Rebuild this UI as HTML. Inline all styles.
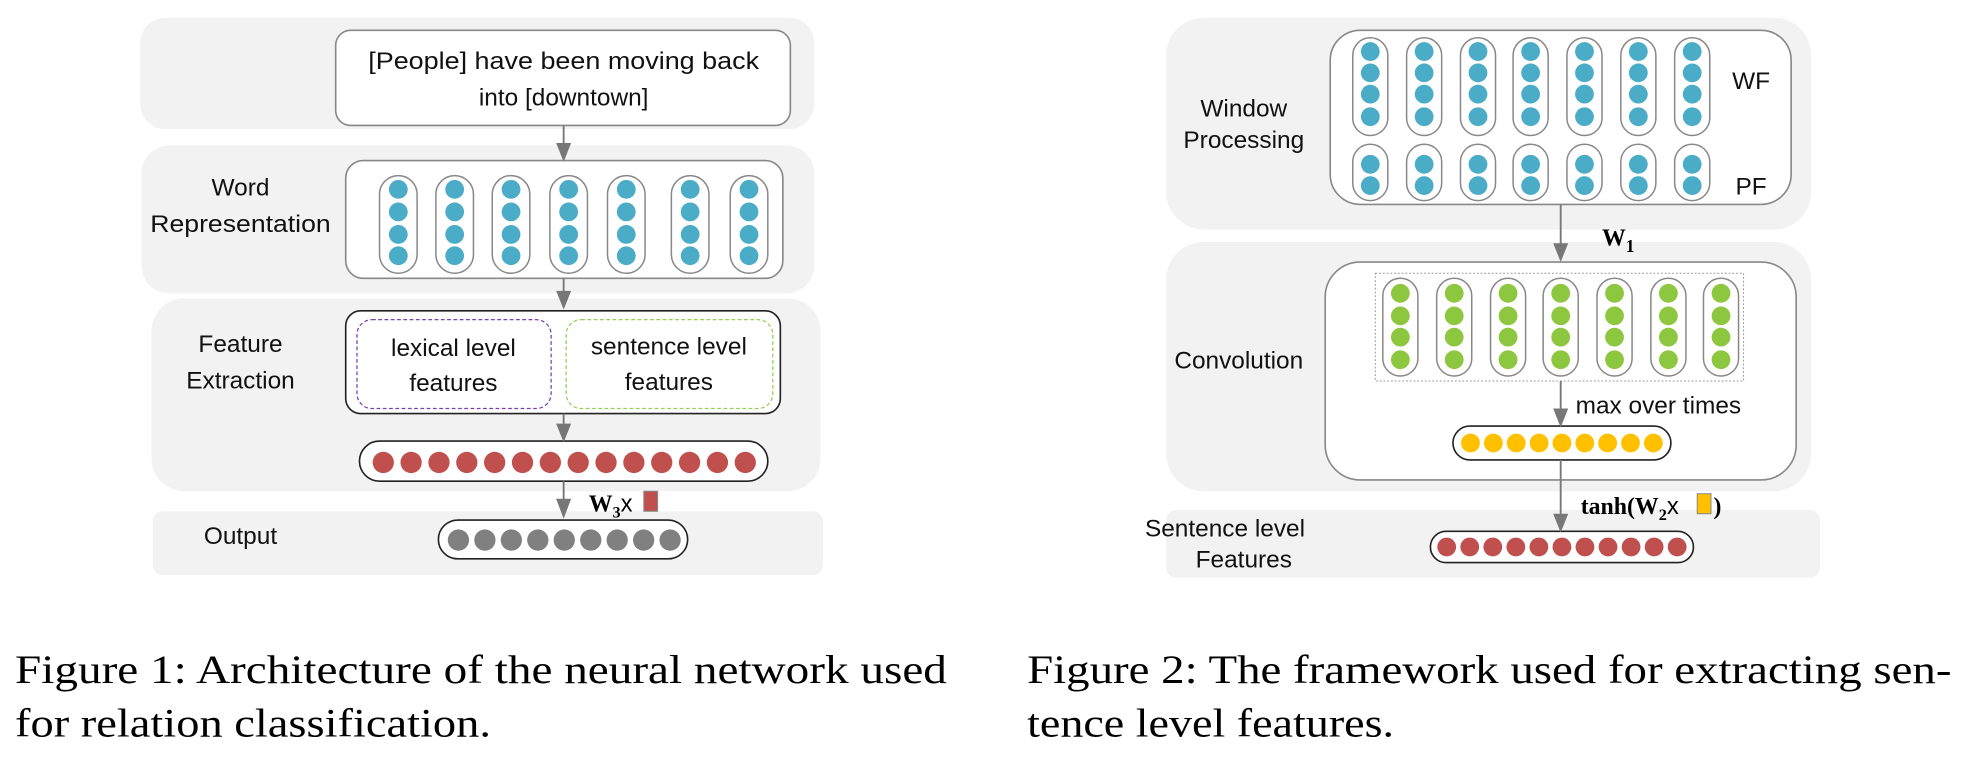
<!DOCTYPE html>
<html><head><meta charset="utf-8"><style>
html,body{margin:0;padding:0;background:#fff;width:1964px;height:762px;overflow:hidden}
svg{display:block}
.s{font-family:"Liberation Sans",sans-serif;font-size:19.5px;fill:#111;text-anchor:middle}
.c{font-family:"Liberation Serif",serif;font-size:32px;fill:#000}
.b{font-family:"Liberation Serif",serif;font-weight:bold;font-size:19px;fill:#000}
</style></head><body>
<svg id="g" width="1964" height="762" viewBox="0 0 1568 608" xmlns="http://www.w3.org/2000/svg">
<!-- Fig1 panels -->
<rect x="112" y="14" width="538" height="89" rx="20" fill="#f2f2f2"/>
<rect x="113" y="116" width="537" height="118" rx="22" fill="#f2f2f2"/>
<rect x="121" y="238" width="534" height="154" rx="26" fill="#f2f2f2"/>
<rect x="122" y="408" width="535" height="51" rx="8" fill="#f2f2f2"/>
<rect x="268" y="24" width="363" height="76" rx="12" fill="#fff" stroke="#888" stroke-width="1.3"/>
<text class="s" x="450" y="55" textLength="312" lengthAdjust="spacingAndGlyphs">[People] have been moving back</text>
<text class="s" x="450" y="84">into [downtown]</text>
<rect x="276" y="128" width="349" height="94" rx="14" fill="#fff" stroke="#888" stroke-width="1.3"/>
<text class="s" x="192" y="156">Word</text>
<text class="s" x="192" y="185" textLength="144" lengthAdjust="spacingAndGlyphs">Representation</text>
<rect x="276" y="248" width="347" height="82" rx="12" fill="#fff" stroke="#222" stroke-width="1.3"/>
<rect x="285" y="255" width="155" height="71" rx="12" fill="#fff" stroke="#7a3fb0" stroke-width="1" stroke-dasharray="3,2"/>
<rect x="452" y="255" width="165" height="71" rx="12" fill="#fff" stroke="#92d050" stroke-width="1" stroke-dasharray="3,2"/>
<text class="s" x="362" y="284">lexical level</text>
<text class="s" x="362" y="312">features</text>
<text class="s" x="534" y="283">sentence level</text>
<text class="s" x="534" y="311">features</text>
<text class="s" x="192" y="281">Feature</text>
<text class="s" x="192" y="310">Extraction</text>
<rect x="287" y="352" width="326" height="32" rx="16" fill="#fff" stroke="#222" stroke-width="1.3"/>
<rect x="350" y="415" width="199" height="31" rx="15.5" fill="#fff" stroke="#222" stroke-width="1.3"/>
<text class="s" x="192" y="434">Output</text>
<text class="b" x="470" y="408">W<tspan font-size="13" dy="5">3</tspan><tspan dy="-5" font-weight="normal" font-family="Liberation Sans">x</tspan></text>
<rect x="514" y="392" width="11" height="16" fill="#c0504d" stroke="#888" stroke-width="0.8"/>
<!-- Fig2 -->
<rect x="931" y="14" width="515" height="169" rx="30" fill="#f2f2f2"/>
<rect x="931" y="193" width="515" height="199" rx="30" fill="#f2f2f2"/>
<rect x="931" y="407" width="522" height="54" rx="8" fill="#f2f2f2"/>
<rect x="1062" y="24" width="368" height="139" rx="24" fill="#fff" stroke="#888" stroke-width="1.3"/>
<text class="s" x="1398" y="71">WF</text>
<text class="s" x="1398" y="155">PF</text>
<text class="s" x="993" y="93">Window</text>
<text class="s" x="993" y="118">Processing</text>
<rect x="1058" y="209" width="376" height="174" rx="28" fill="#fff" stroke="#888" stroke-width="1.3"/>
<rect x="1098" y="218" width="294" height="86" fill="none" stroke="#999" stroke-width="0.8" stroke-dasharray="1.5,1.5"/>
<text class="s" x="989" y="294">Convolution</text>
<text class="s" x="1324" y="330" font-size="18">max over times</text>
<rect x="1160" y="340" width="174" height="27" rx="13.5" fill="#fff" stroke="#222" stroke-width="1.3"/>
<rect x="1142" y="424" width="210" height="25" rx="12.5" fill="#fff" stroke="#222" stroke-width="1.3"/>
<text class="s" x="978" y="428" font-size="18.5">Sentence level</text>
<text class="s" x="993" y="453" font-size="18.5">Features</text>
<text class="b" x="1279" y="196" font-size="20">W<tspan font-size="14" dy="5">1</tspan></text>
<text class="b" x="1262" y="410">tanh(W<tspan font-size="13" dy="5">2</tspan><tspan dy="-5" font-weight="normal" font-family="Liberation Sans">x</tspan></text>
<rect x="1355" y="394" width="11" height="16" fill="#ffc000" stroke="#888" stroke-width="0.8"/>
<text class="b" x="1368" y="410">)</text>
<!-- arrows -->
<g stroke="#777" stroke-width="1.5">
<line x1="450" y1="100" x2="450" y2="116"/>
<line x1="450" y1="222" x2="450" y2="234"/>
<line x1="450" y1="330" x2="450" y2="340"/>
<line x1="450" y1="384" x2="450" y2="400"/>
<line x1="1246" y1="163" x2="1246" y2="196"/>
<line x1="1246" y1="304" x2="1246" y2="328"/>
<line x1="1246" y1="367" x2="1246" y2="412"/>
</g>
<g fill="#777">
<polygon points="444,114 456,114 450,129"/>
<polygon points="444,232 456,232 450,247"/>
<polygon points="444,338 456,338 450,353"/>
<polygon points="444,398 456,398 450,414"/>
<polygon points="1240,194 1252,194 1246,209"/>
<polygon points="1240,326 1252,326 1246,341"/>
<polygon points="1240,410 1252,410 1246,425"/>
</g>
<!-- captions -->
<text class="c" x="12" y="545" textLength="744" lengthAdjust="spacingAndGlyphs">Figure 1: Architecture of the neural network used</text>
<text class="c" x="12" y="588" textLength="380" lengthAdjust="spacingAndGlyphs">for relation classification.</text>
<text class="c" x="820" y="545" textLength="738" lengthAdjust="spacingAndGlyphs">Figure 2: The framework used for extracting sen-</text>
<text class="c" x="820" y="588" textLength="293" lengthAdjust="spacingAndGlyphs">tence level features.</text>
<g id="dyn"></g>
</svg>
<script>
var NS="http://www.w3.org/2000/svg",g=document.getElementById("dyn");
function el(t,a){var e=document.createElementNS(NS,t);for(var k in a)e.setAttribute(k,a[k]);g.appendChild(e);}
function pill(cx,y1,y2,w){el("rect",{x:cx-w/2,y:y1,width:w,height:y2-y1,rx:w/2,fill:"#fff",stroke:"#888","stroke-width":1.2});}
function dot(cx,cy,r,f){el("circle",{cx:cx,cy:cy,r:r,fill:f});}
var blue="#4aacc6",green="#8dc63f";
[318,363,408,454,500,551,598].forEach(function(x){pill(x,140,218,30);[151,169,187,204].forEach(function(y){dot(x,y,7.5,blue);});});
for(var i=0;i<14;i++)dot(306+i*(595-306)/13,369,8.5,"#c0504d");
for(var i=0;i<9;i++)dot(366+i*(535-366)/8,431,8.5,"#808080");
[1094,1137,1180,1222,1265,1308,1351].forEach(function(x){pill(x,30,108,28);[41,58,75,93].forEach(function(y){dot(x,y,7.5,blue);});pill(x,115,160,28);[131,148].forEach(function(y){dot(x,y,7.5,blue);});});
[1118,1161,1204,1246,1289,1332,1374].forEach(function(x){pill(x,222,300,28);[234,252,269,287].forEach(function(y){dot(x,y,7.5,green);});});
for(var i=0;i<9;i++)dot(1174+i*(1320-1174)/8,353.5,7.5,"#ffc000");
for(var i=0;i<11;i++)dot(1155+i*(1339-1155)/10,436.5,7.5,"#c0504d");
</script>
</body></html>
